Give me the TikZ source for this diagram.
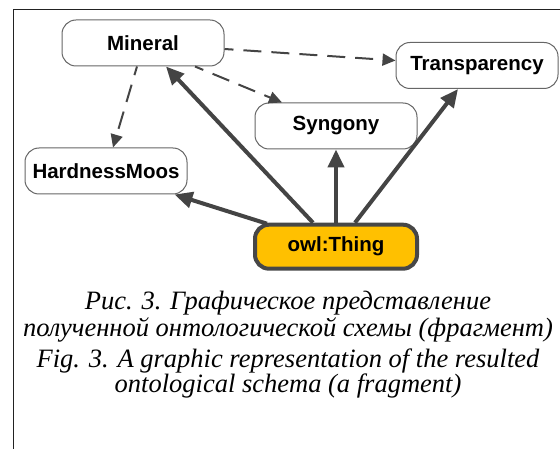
\documentclass[tikz,border=0pt]{standalone}
\usepackage{fontspec}
\setmainfont{Liberation Serif}
\setsansfont{Liberation Sans}
\usetikzlibrary{arrows.meta,calc}
\definecolor{boxline}{HTML}{666666}
\definecolor{arrowgray}{HTML}{444444}
\definecolor{thingfill}{HTML}{FFC000}
\definecolor{thingline}{HTML}{474747}
\definecolor{framecol}{HTML}{222222}
\tikzset{
  classbox/.style={draw=boxline, line width=1pt, fill=white, rounded corners=14pt,
    minimum width=162pt, minimum height=46pt, inner sep=0pt,
    font=\sffamily\bfseries\fontsize{20.5}{24}\selectfont},
  thingbox/.style={classbox, draw=thingline, line width=4pt, fill=thingfill,
    minimum width=162pt, minimum height=44pt},
  subarrow/.style={draw=arrowgray, line width=4pt, -{Triangle[length=18pt,width=16pt]}},
  proparrow/.style={draw=arrowgray, line width=2pt, dash pattern=on 18pt off 10pt,
    dash phase=9pt, -{Triangle[length=13pt,width=12pt]}},
  captext/.style={font=\itshape\fontsize{26.5}{31}\selectfont, anchor=base, inner sep=0pt}
}
\begin{document}
\begin{tikzpicture}[x=1pt,y=-1pt]
\useasboundingbox (0,0) rectangle (560,449);
\draw[framecol, line width=1.5pt] (13.5,449) -- (13.5,9.5) -- (560,9.5);

\node[classbox] (mineral) at (143,43) {Mineral};
\node[classbox] (transp) at (477,65.5) {Transparency};
\node[classbox] (syn) at (336,126) {Syngony};
\node[classbox] (hard) at (106,171) {HardnessMoos};
\node[thingbox] (thing) at (336,246.7) {owl:Thing};

\draw[subarrow] ($(thing.north)+(-23,0)$) -- ($(mineral.south)+(23,0)$);
\draw[subarrow] (thing.north) -- (syn.south);
\draw[subarrow] ($(thing.north)+(19,0)$) -- ($(transp.south)+(-19,0)$);
\draw[subarrow] ($(thing.north west)+(14,1)$) -- ($(hard.south east)+(-13,0)$);

\draw[proparrow] ($(mineral.east)+(0,6)$) -- ($(transp.west)+(0,-5)$);
\draw[proparrow] ($(mineral.south)+(52,0)$) -- ($(syn.north)+(-54,0)$);
\draw[proparrow] ($(mineral.south)+(-6,0)$) -- ($(hard.north)+(7,0)$);

\node[captext] (cap1) at (288,309) {Рис. 3. Графическое представление};
\node[captext] (cap2) at (288,336) {полученной онтологической схемы (фрагмент)};
\node[captext] (cap3) at (288,367) {Fig. 3. A graphic representation of the resulted};
\node[captext] (cap4) at (288,392) {ontological schema (a fragment)};
\end{tikzpicture}
\end{document}
